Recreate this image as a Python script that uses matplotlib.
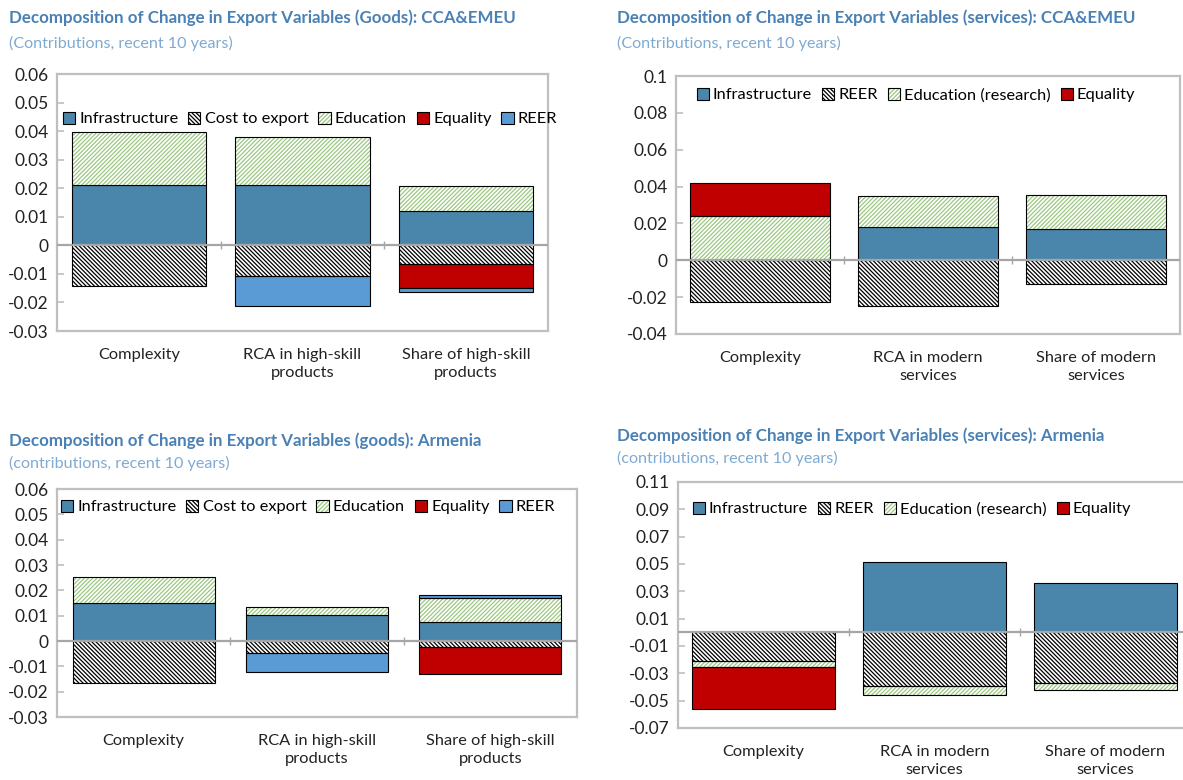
import matplotlib
matplotlib.use("Agg")
import matplotlib.pyplot as plt
import numpy as np
from matplotlib.patches import Patch
from matplotlib.legend_handler import HandlerTuple

plt.rcParams['font.family'] = ['Lato', 'DejaVu Sans']
plt.rcParams['hatch.linewidth'] = 0.9

# ---------------- data ----------------
cats_goods = ["Complexity", "RCA in high-skill\nproducts", "Share of high-skill\nproducts"]
cats_serv = ["Complexity", "RCA in modern\nservices", "Share of modern\nservices"]

# Panel 1: goods, CCA&EMEU
p1_infra = [0.0213, 0.0213, 0.0119]
p1_cost = [-0.0143, -0.0106, -0.0066]
p1_edu = [0.0183, 0.0168, 0.0090]
p1_equality = [0.0, 0.0, -0.0083]
p1_reer = [0.0, -0.0107, -0.0016]

# Panel 2: services, CCA&EMEU
p2_infra = [0.0, 0.0181, 0.0172]
p2_reer = [-0.0228, -0.0247, -0.0130]
p2_edu = [0.0241, 0.0166, 0.0182]
p2_equality = [0.0176, 0.0, 0.0]

# Panel 3: goods, Armenia
p3_infra = [0.0151, 0.0104, 0.0074]
p3_cost = [-0.0165, -0.0046, -0.0025]
p3_edu = [0.0101, 0.0030, 0.0095]
p3_equality = [0.0, 0.0, -0.0106]
p3_reer = [0.0, -0.0076, 0.0011]

# Panel 4: services, Armenia
p4_infra = [0.0, 0.0518, 0.0360]
p4_reer = [-0.0208, -0.0391, -0.0370]
p4_edu = [-0.0044, -0.0066, -0.0050]
p4_equality = [-0.0307, 0.0, 0.0]

p1_yticks = ["0.06", "0.05", "0.04", "0.03", "0.02", "0.01", "0", "-0.01", "-0.02", "-0.03"]
p2_yticks = ["0.1", "0.08", "0.06", "0.04", "0.02", "0", "-0.02", "-0.04"]
p3_yticks = ["0.06", "0.05", "0.04", "0.03", "0.02", "0.01", "0", "-0.01", "-0.02", "-0.03"]
p4_yticks = ["0.11", "0.09", "0.07", "0.05", "0.03", "0.01", "-0.01", "-0.03", "-0.05", "-0.07"]

titles = [
    "Decomposition of Change in Export Variables (Goods): CCA&EMEU",
    "Decomposition of Change in Export Variables (services): CCA&EMEU",
    "Decomposition of Change in Export Variables (goods): Armenia",
    "Decomposition of Change in Export Variables (services): Armenia",
]
subtitles = [
    "(Contributions, recent 10 years)",
    "(Contributions, recent 10 years)",
    "(contributions, recent 10 years)",
    "(contributions, recent 10 years)",
]

# ---------------- styles ----------------
W, H = 1183, 780
C_INFRA = "#4A86AC"
C_REER = "#5B9BD5"
C_EQ = "#C00000"
C_GREEN = "#9CC783"
C_TITLE = "#4A80B4"
C_SUB = "#7FAAD2"
FRAME = "#BFBFBF"
ZERO = "#A6A6A6"

STY = {
    "Infrastructure": dict(kind="solid", color=C_INFRA),
    "REER_goods": dict(kind="solid", color=C_REER),
    "Equality": dict(kind="solid", color=C_EQ),
    "Education": dict(kind="hatch", color=C_GREEN, hatch="////////"),
    "Black": dict(kind="hatch", color="black", hatch="\\\\\\\\\\\\\\\\"),
}

fig = plt.figure(figsize=(W / 100, H / 100), dpi=100)


def add_ax(left, top, right, bottom):
    return fig.add_axes([left / W, 1 - bottom / H, (right - left) / W, (bottom - top) / H])


def draw_series(ax, x, vals, bottoms, sty, width):
    vals = np.asarray(vals, float)
    mask = vals != 0
    xs, v, b = x[mask], vals[mask], bottoms[mask]
    if sty["kind"] == "solid":
        ax.bar(xs, v, width, bottom=b, color=sty["color"], edgecolor="black", linewidth=0.8, zorder=2)
    else:
        ax.bar(xs, v, width, bottom=b, color="white", edgecolor=sty["color"], hatch=sty["hatch"],
               linewidth=0, zorder=2)
        ax.bar(xs, v, width, bottom=b, fill=False, edgecolor="black", linewidth=0.8, zorder=3)


def legend_handle(sty):
    if sty["kind"] == "solid":
        return Patch(facecolor=sty["color"], edgecolor="black", linewidth=0.8)
    return (Patch(facecolor="white", edgecolor=sty["color"], hatch=sty["hatch"], linewidth=0),
            Patch(fill=False, edgecolor="black", linewidth=0.8))


def panel(rect, cats, series, ylim, yticklabels, ystep, legend_center, width):
    ax = add_ax(*rect)
    x = np.arange(len(cats))
    pos = np.zeros(len(cats))
    neg = np.zeros(len(cats))
    for name, vals, sty in series:
        vals = np.asarray(vals, float)
        b = np.where(vals >= 0, pos, neg)
        draw_series(ax, x, vals, b, sty, width)
        pos = pos + np.where(vals > 0, vals, 0)
        neg = neg + np.where(vals < 0, vals, 0)
    ax.set_xlim(-0.5, len(cats) - 0.5)
    ax.set_ylim(*ylim)
    ticks = [ylim[1] - i * ystep for i in range(len(yticklabels))]
    ax.set_yticks(ticks)
    ax.set_yticklabels(yticklabels, fontsize=12.5, color="#222222")
    ax.set_xticks(x)
    ax.set_xticklabels(cats, fontsize=11.8, color="#222222", linespacing=1.35)
    ax.tick_params(axis="x", length=0, pad=12)
    ax.tick_params(axis="y", direction="in", length=5, color=FRAME, width=1.2, pad=6)
    for s in ax.spines.values():
        s.set_color(FRAME)
        s.set_linewidth(1.6)
    ax.axhline(0, color=ZERO, linewidth=1.6, zorder=4)
    ax.plot(x[:-1] + 0.5, np.zeros(len(cats) - 1), linestyle="none", marker="|",
            markersize=6, color=ZERO, zorder=4)
    handles = [legend_handle(sty) for _, _, sty in series]
    labels = [name for name, _, _ in series]
    ax.legend(handles, labels, loc="center",
              bbox_to_anchor=(legend_center[0] / W, 1 - legend_center[1] / H),
              bbox_transform=fig.transFigure, ncol=len(series), frameon=False,
              fontsize=11.8, handlelength=0.75, handleheight=0.75, handletextpad=0.25,
              columnspacing=0.6, borderpad=0,
              handler_map={tuple: HandlerTuple(ndivide=1, pad=0)})
    return ax


panel((57, 74, 548, 331), cats_goods,
      [("Infrastructure", p1_infra, STY["Infrastructure"]),
       ("Cost to export", p1_cost, STY["Black"]),
       ("Education", p1_edu, STY["Education"]),
       ("Equality", p1_equality, STY["Equality"]),
       ("REER", p1_reer, STY["REER_goods"])],
      (-0.03, 0.06), p1_yticks, 0.01, (310, 119), 0.82)

panel((676, 76, 1180, 334), cats_serv,
      [("Infrastructure", p2_infra, STY["Infrastructure"]),
       ("REER", p2_reer, STY["Black"]),
       ("Education (research)", p2_edu, STY["Education"]),
       ("Equality", p2_equality, STY["Equality"])],
      (-0.04, 0.1), p2_yticks, 0.02, (916, 95), 0.83)

panel((57, 489, 577, 717), cats_goods,
      [("Infrastructure", p3_infra, STY["Infrastructure"]),
       ("Cost to export", p3_cost, STY["Black"]),
       ("Education", p3_edu, STY["Education"]),
       ("Equality", p3_equality, STY["Equality"]),
       ("REER", p3_reer, STY["REER_goods"])],
      (-0.03, 0.06), p3_yticks, 0.01, (308, 507), 0.82)

panel((678, 482, 1191, 728), cats_serv,
      [("Infrastructure", p4_infra, STY["Infrastructure"]),
       ("REER", p4_reer, STY["Black"]),
       ("Education (research)", p4_edu, STY["Education"]),
       ("Equality", p4_equality, STY["Equality"])],
      (-0.07, 0.11), p4_yticks, 0.02, (912, 509), 0.84)

title_pos = [(9, 18, 43), (617, 18, 43), (9, 441, 463), (617, 436, 458)]
for (tx, ty, sy), t, s in zip(title_pos, titles, subtitles):
    fig.text(tx / W, 1 - ty / H, t, fontsize=12.2, fontweight="bold", color=C_TITLE, va="center", ha="left")
    fig.text(tx / W, 1 - sy / H, s, fontsize=11.6, color=C_SUB, va="center", ha="left")

fig.savefig("out.png", dpi=100)
